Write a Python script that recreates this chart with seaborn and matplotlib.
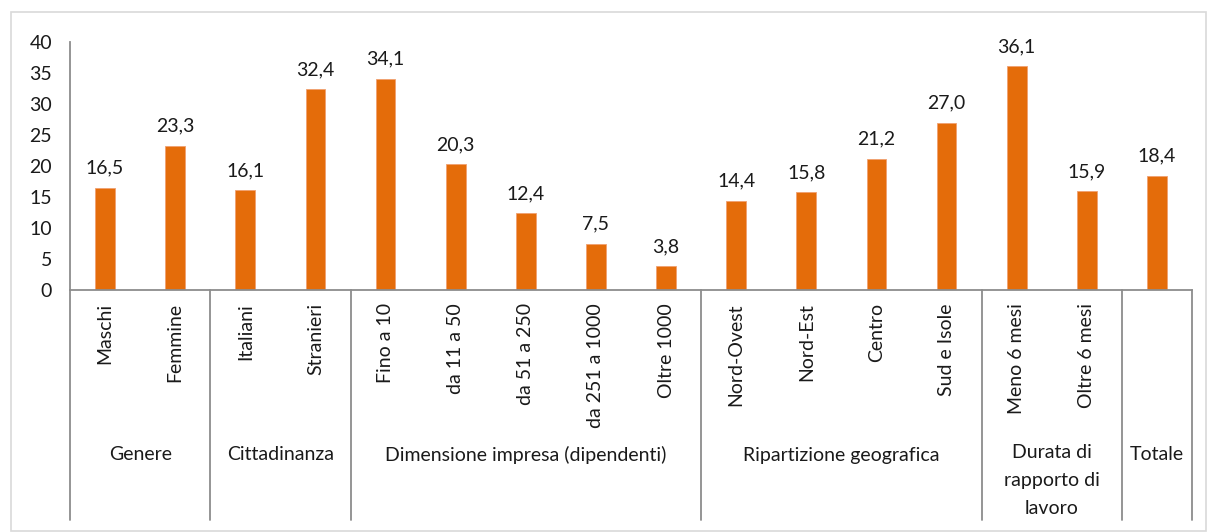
import matplotlib
matplotlib.use("Agg")
import matplotlib.pyplot as plt
from matplotlib.patches import Rectangle
import matplotlib.transforms as mtransforms
import seaborn as sns
import pandas as pd

# Data
categories = ["Maschi", "Femmine", "Italiani", "Stranieri", "Fino a 10", "da 11 a 50",
              "da 51 a 250", "da 251 a 1000", "Oltre 1000", "Nord-Ovest", "Nord-Est",
              "Centro", "Sud e Isole", "Meno 6 mesi", "Oltre 6 mesi", "Totale"]
tick_labels = categories[:-1] + [""]
values = [16.5, 23.3, 16.1, 32.4, 34.1, 20.3, 12.4, 7.5, 3.8, 14.4, 15.8, 21.2, 27.0,
          36.1, 15.9, 18.4]
groups = ["Genere", "Cittadinanza", "Dimensione impresa (dipendenti)",
          "Ripartizione geografica", "Durata di\nrapporto di\nlavoro", "Totale"]
group_sizes = [2, 2, 5, 4, 2, 1]
y_ticks = [0, 5, 10, 15, 20, 25, 30, 35, 40]

df = pd.DataFrame({"categoria": categories, "valore": values})

sns.set_theme(style="white")
plt.rcParams["font.family"] = ["Lato", "DejaVu Sans"]

FS = 14
TXT = "#1a1a1a"
W, H = 1208, 532
fig = plt.figure(figsize=(W / 100, H / 100), dpi=100)
ax_left, ax_right, ax_top, ax_bottom = 70, 1192, 42, 290
ax = fig.add_axes([ax_left / W, 1 - ax_bottom / H, (ax_right - ax_left) / W,
                   (ax_bottom - ax_top) / H])

bar_color = "#E46C0A"
sns.barplot(data=df, x="categoria", y="valore", order=categories, color=bar_color,
            width=0.28, saturation=1, edgecolor="#F0A070", linewidth=0.6, ax=ax)

ax.set_xlim(-0.5, len(categories) - 0.5)
ax.set_ylim(0, 40)
ax.set_yticks(y_ticks)
ax.set_yticklabels([str(t) for t in y_ticks], fontsize=FS, color=TXT)
ax.tick_params(axis="y", length=0, pad=13)
ax.tick_params(axis="x", length=0)
ax.set_xlabel("")
ax.set_ylabel("")
ax.set_xticklabels([])

for side in ["top", "right"]:
    ax.spines[side].set_visible(False)
for side in ["left", "bottom"]:
    ax.spines[side].set_color("#8c8c8c")
    ax.spines[side].set_linewidth(1.3)

# Value labels above bars
for i, v in enumerate(values):
    ax.annotate(f"{v:.1f}".replace(".", ","), (i, v), xytext=(0, 8),
                textcoords="offset points", ha="center", va="bottom",
                fontsize=FS, color=TXT)

# Category labels (rotated) and group separators below the axis
trans = mtransforms.blended_transform_factory(ax.transData, ax.transAxes)
axh = ax_bottom - ax_top
for i, c in enumerate(tick_labels):
    ax.text(i, -13 / axh, c, rotation=90, ha="center", va="top", fontsize=FS,
            color=TXT, transform=trans)

sep_bottom = -(520 - ax_bottom) / axh
boundaries = [-0.5]
for s in group_sizes:
    boundaries.append(boundaries[-1] + s)
for b in boundaries:
    ax.plot([b, b], [0, sep_bottom], transform=trans, color="#8c8c8c",
            linewidth=1.3, clip_on=False)

for g, start, end in zip(groups, boundaries[:-1], boundaries[1:]):
    if "\n" in g:
        ax.text((start + end) / 2, -(444 - ax_bottom) / axh, g, ha="center", va="top",
                fontsize=FS, color=TXT, transform=trans, linespacing=1.8)
    else:
        ax.text((start + end) / 2, -(455 - ax_bottom) / axh, g, ha="center",
                va="center", fontsize=FS, color=TXT, transform=trans)

# Chart-area border
fig.patches.append(Rectangle((11 / W, 1 / H), (W - 13) / W, (H - 13) / H,
                             transform=fig.transFigure, fill=False,
                             edgecolor="#d9d9d9", linewidth=1.2))

fig.savefig("out.png", dpi=100)
